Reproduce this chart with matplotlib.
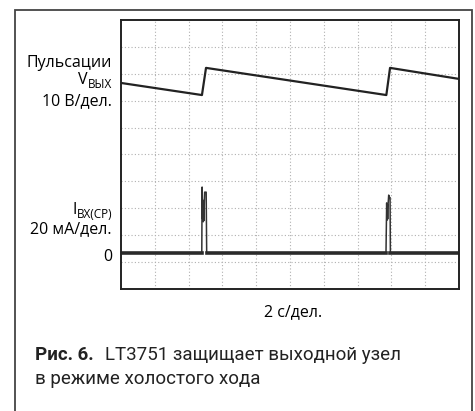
import matplotlib
matplotlib.use("Agg")
import matplotlib.pyplot as plt
from matplotlib.patches import Rectangle

W, H = 475, 411

# time, s (2 s/div, 10 div)
t_v = [0.0, 4.79, 5.03, 15.70, 15.92, 20.0]
# output ripple trace, in screen divisions
v_out = [7.66, 7.21, 8.22, 7.21, 8.22, 7.81]

t_i = [0.0, 4.78, 4.80, 4.83, 4.85, 4.87, 4.89, 4.91, 4.93, 4.95, 5.04, 5.07, 5.09,
       15.66, 15.68, 15.72, 15.74, 15.76, 15.78, 15.80, 15.84, 15.88, 15.92, 15.94, 20.0]
# input current trace, in screen divisions
i_in = [1.34, 1.34, 3.79, 2.60, 3.30, 2.50, 3.20, 2.55, 3.25, 3.60, 3.60, 1.34, 1.34,
        1.34, 1.34, 3.20, 2.56, 3.15, 2.60, 3.10, 3.49, 3.40, 3.40, 1.34, 1.34]

label_font = "Open Sans"
cap_font = "Roboto"


def fx(px):
    return px / W


def fy(py):
    return 1 - py / H


fig = plt.figure(figsize=(W / 100, H / 100), dpi=100)

# outer frame (bottom edge runs off the picture)
fig.patches.append(Rectangle((fx(15), fy(430)), fx(472) - fx(15), fy(10) - fy(430),
                             transform=fig.transFigure, fill=False,
                             edgecolor="#444444", linewidth=1.3))

ax = fig.add_axes([fx(121), fy(289), fx(459) - fx(121), fy(20) - fy(289)])
ax.set_xlim(0, 20)
ax.set_ylim(0, 10)
ax.set_xticks([2 * k for k in range(1, 10)])
ax.set_yticks(range(1, 10))
ax.tick_params(length=0, labelbottom=False, labelleft=False)
ax.grid(True, color="#b0b0b0", linestyle=(0, (1, 2)), linewidth=0.8)
for s in ax.spines.values():
    s.set_linewidth(1.4)
    s.set_color("#222222")

ax.plot(t_v, v_out, color="#222222", linewidth=1.6)
ax.plot(t_i, i_in, color="#333333", linewidth=1.1)
# noisy baseline drawn as a thick band
for a, b in [(0, 4.78), (5.09, 15.66), (15.94, 20)]:
    ax.plot([a, b], [1.34, 1.34], color="#2a2a2a", linewidth=2.6)

fs = 11.5
fig.text(fx(112), fy(63), "Пульсации", ha="right", va="center", fontsize=fs, family=label_font)
sub = fig.text(fx(112), fy(84), "ВЫХ", ha="right", va="center", fontsize=8.5, family=label_font)
ax.annotate("V", xy=(0, 0.8), xycoords=sub, ha="right", va="center",
            fontsize=fs, family=label_font, annotation_clip=False)
fig.text(fx(112), fy(101), "10 В/дел.", ha="right", va="center", fontsize=fs, family=label_font)

sub2 = fig.text(fx(112), fy(214), "BX(CP)", ha="right", va="center", fontsize=8.5, family=label_font)
ax.annotate("I", xy=(0, 0.8), xycoords=sub2, ha="right", va="center",
            fontsize=fs, family=label_font, annotation_clip=False)
fig.text(fx(112), fy(229), "20 мА/дел.", ha="right", va="center", fontsize=fs, family=label_font)
fig.text(fx(112), fy(257), "0", ha="right", va="center", fontsize=fs, family=label_font)

fig.text(fx(293), fy(312), "2 с/дел.", ha="center", va="center", fontsize=fs, family=label_font)

cs = 13.5
fig.text(fx(35), fy(355), "Рис. 6.", ha="left", va="center", fontsize=cs,
         family=cap_font, fontweight="bold", color="#222222")
fig.text(fx(105), fy(355), "LT3751 защищает выходной узел", ha="left", va="center",
         fontsize=cs, family=cap_font, color="#222222")
fig.text(fx(35), fy(379), "в режиме холостого хода", ha="left", va="center",
         fontsize=cs, family=cap_font, color="#222222")

fig.savefig("out.png", dpi=100)
